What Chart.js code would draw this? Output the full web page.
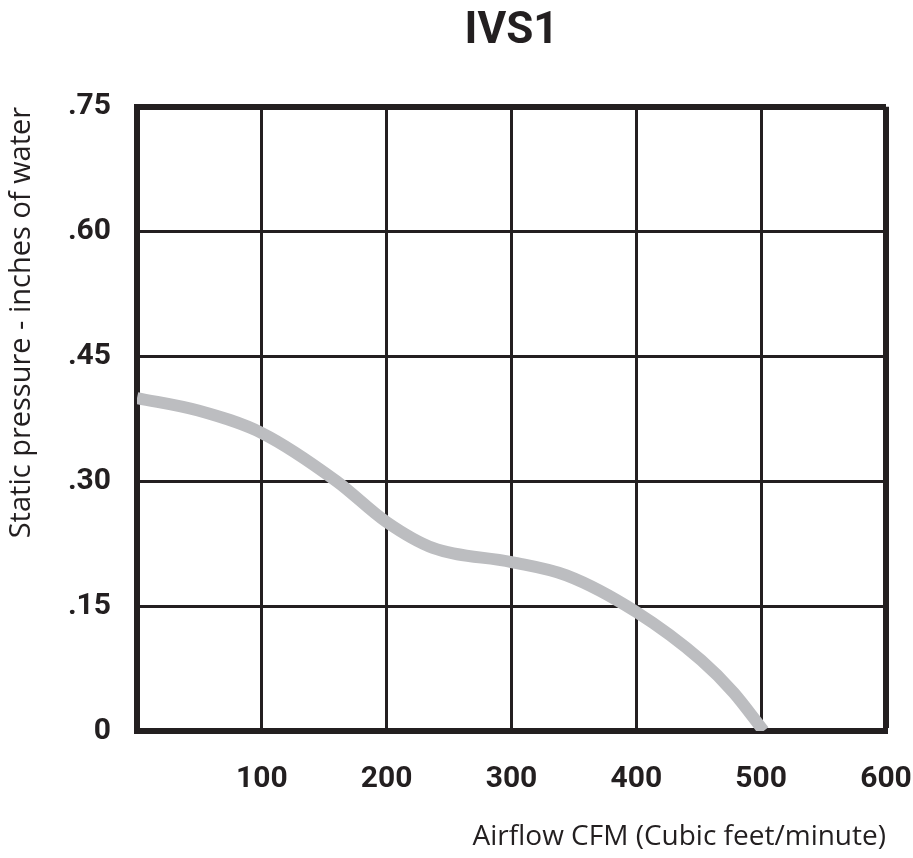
<!DOCTYPE html>
<html>
<head>
<meta charset="utf-8">
<script src="https://cdn.jsdelivr.net/npm/chart.js@4"></script>
<style>
  html, body { margin: 0; padding: 0; background: #fff; }
  #wrap { width: 913px; height: 858px; }
</style>
</head>
<body>
<div id="wrap"><canvas id="fanCurve" width="913" height="858"></canvas></div>
<script>
// values
var airflow = [0, 49, 100, 160, 200, 237, 300, 344, 400, 452, 478, 502];
var pressure = [0.40, 0.385, 0.358, 0.30, 0.251, 0.22, 0.203, 0.187, 0.143, 0.085, 0.046, 0.0];
var xTicks = [0, 100, 200, 300, 400, 500, 600];
var yTicks = [0, 0.15, 0.30, 0.45, 0.60, 0.75];

var ink = '#231f20';
var ctx = document.getElementById('fanCurve').getContext('2d');

var points = airflow.map(function (a, i) { return { x: a, y: pressure[i] }; });

var chart = new Chart(ctx, {
    type: 'line',
    data: {
        datasets: [{
            label: 'IVS1',
            data: points,
            borderColor: '#bcbdc0',
            borderWidth: 12,
            pointRadius: 0,
            cubicInterpolationMode: 'monotone',
            fill: false
        }]
    },
    options: {
        responsive: false,
        animation: false,
        layout: { padding: { top: 0, right: 27, bottom: 0, left: 0 } },
        plugins: {
            legend: { display: false },
            tooltip: { enabled: false },
            title: {
                display: true,
                fullSize: false,
                text: 'IVS1',
                color: ink,
                font: { family: 'Roboto', size: 44, weight: 'bold' },
                padding: { top: 6, bottom: 48 }
            }
        },
        scales: {
            x: {
                type: 'linear',
                min: 0,
                max: 600,
                afterBuildTicks: function (s) { s.ticks = xTicks.map(function (v) { return { value: v }; }); },
                afterFit: function (s) {
                    s.height = 127;
                    // labels may overhang the frame, don't shrink the plot for them
                    s.paddingLeft = 0;
                    s.paddingRight = 0;
                },
                ticks: {
                    color: ink,
                    font: { family: 'Roboto', size: 30, weight: 'bold' },
                    padding: 30,
                    maxRotation: 0,
                    callback: function (v) { return v === 0 ? '' : v; }
                },
                grid: {
                    color: ink,
                    lineWidth: function (c) { return c.tick && c.tick.value === 600 ? 6 : 3; },
                    drawTicks: false
                },
                border: { color: ink, width: 6 },
                title: {
                    display: true,
                    text: 'Airflow CFM (Cubic feet/minute)',
                    align: 'end',
                    color: ink,
                    font: { family: 'Open Sans', size: 28 },
                    padding: { top: 14 }
                }
            },
            y: {
                min: 0,
                max: 0.75,
                afterBuildTicks: function (s) { s.ticks = yTicks.map(function (v) { return { value: v }; }); },
                afterFit: function (s) { s.width = 137; },
                ticks: {
                    color: ink,
                    font: { family: 'Roboto', size: 30, weight: 'bold' },
                    padding: 26,
                    callback: function (v) {
                        if (v === 0) return '0';
                        var n = Math.round(v * 100);
                        return '.' + (n < 10 ? '0' + n : n);
                    }
                },
                grid: {
                    color: ink,
                    lineWidth: function (c) { return c.tick && Math.abs(c.tick.value - 0.75) < 1e-6 ? 6 : 3; },
                    drawTicks: false
                },
                border: { color: ink, width: 6 },
                title: {
                    display: true,
                    text: 'Static pressure - inches of water',
                    align: 'end',
                    color: ink,
                    font: { family: 'Open Sans', size: 29 },
                    padding: { top: 4, bottom: 0 }
                }
            }
        }
    }
});
</script>
</body>
</html>
